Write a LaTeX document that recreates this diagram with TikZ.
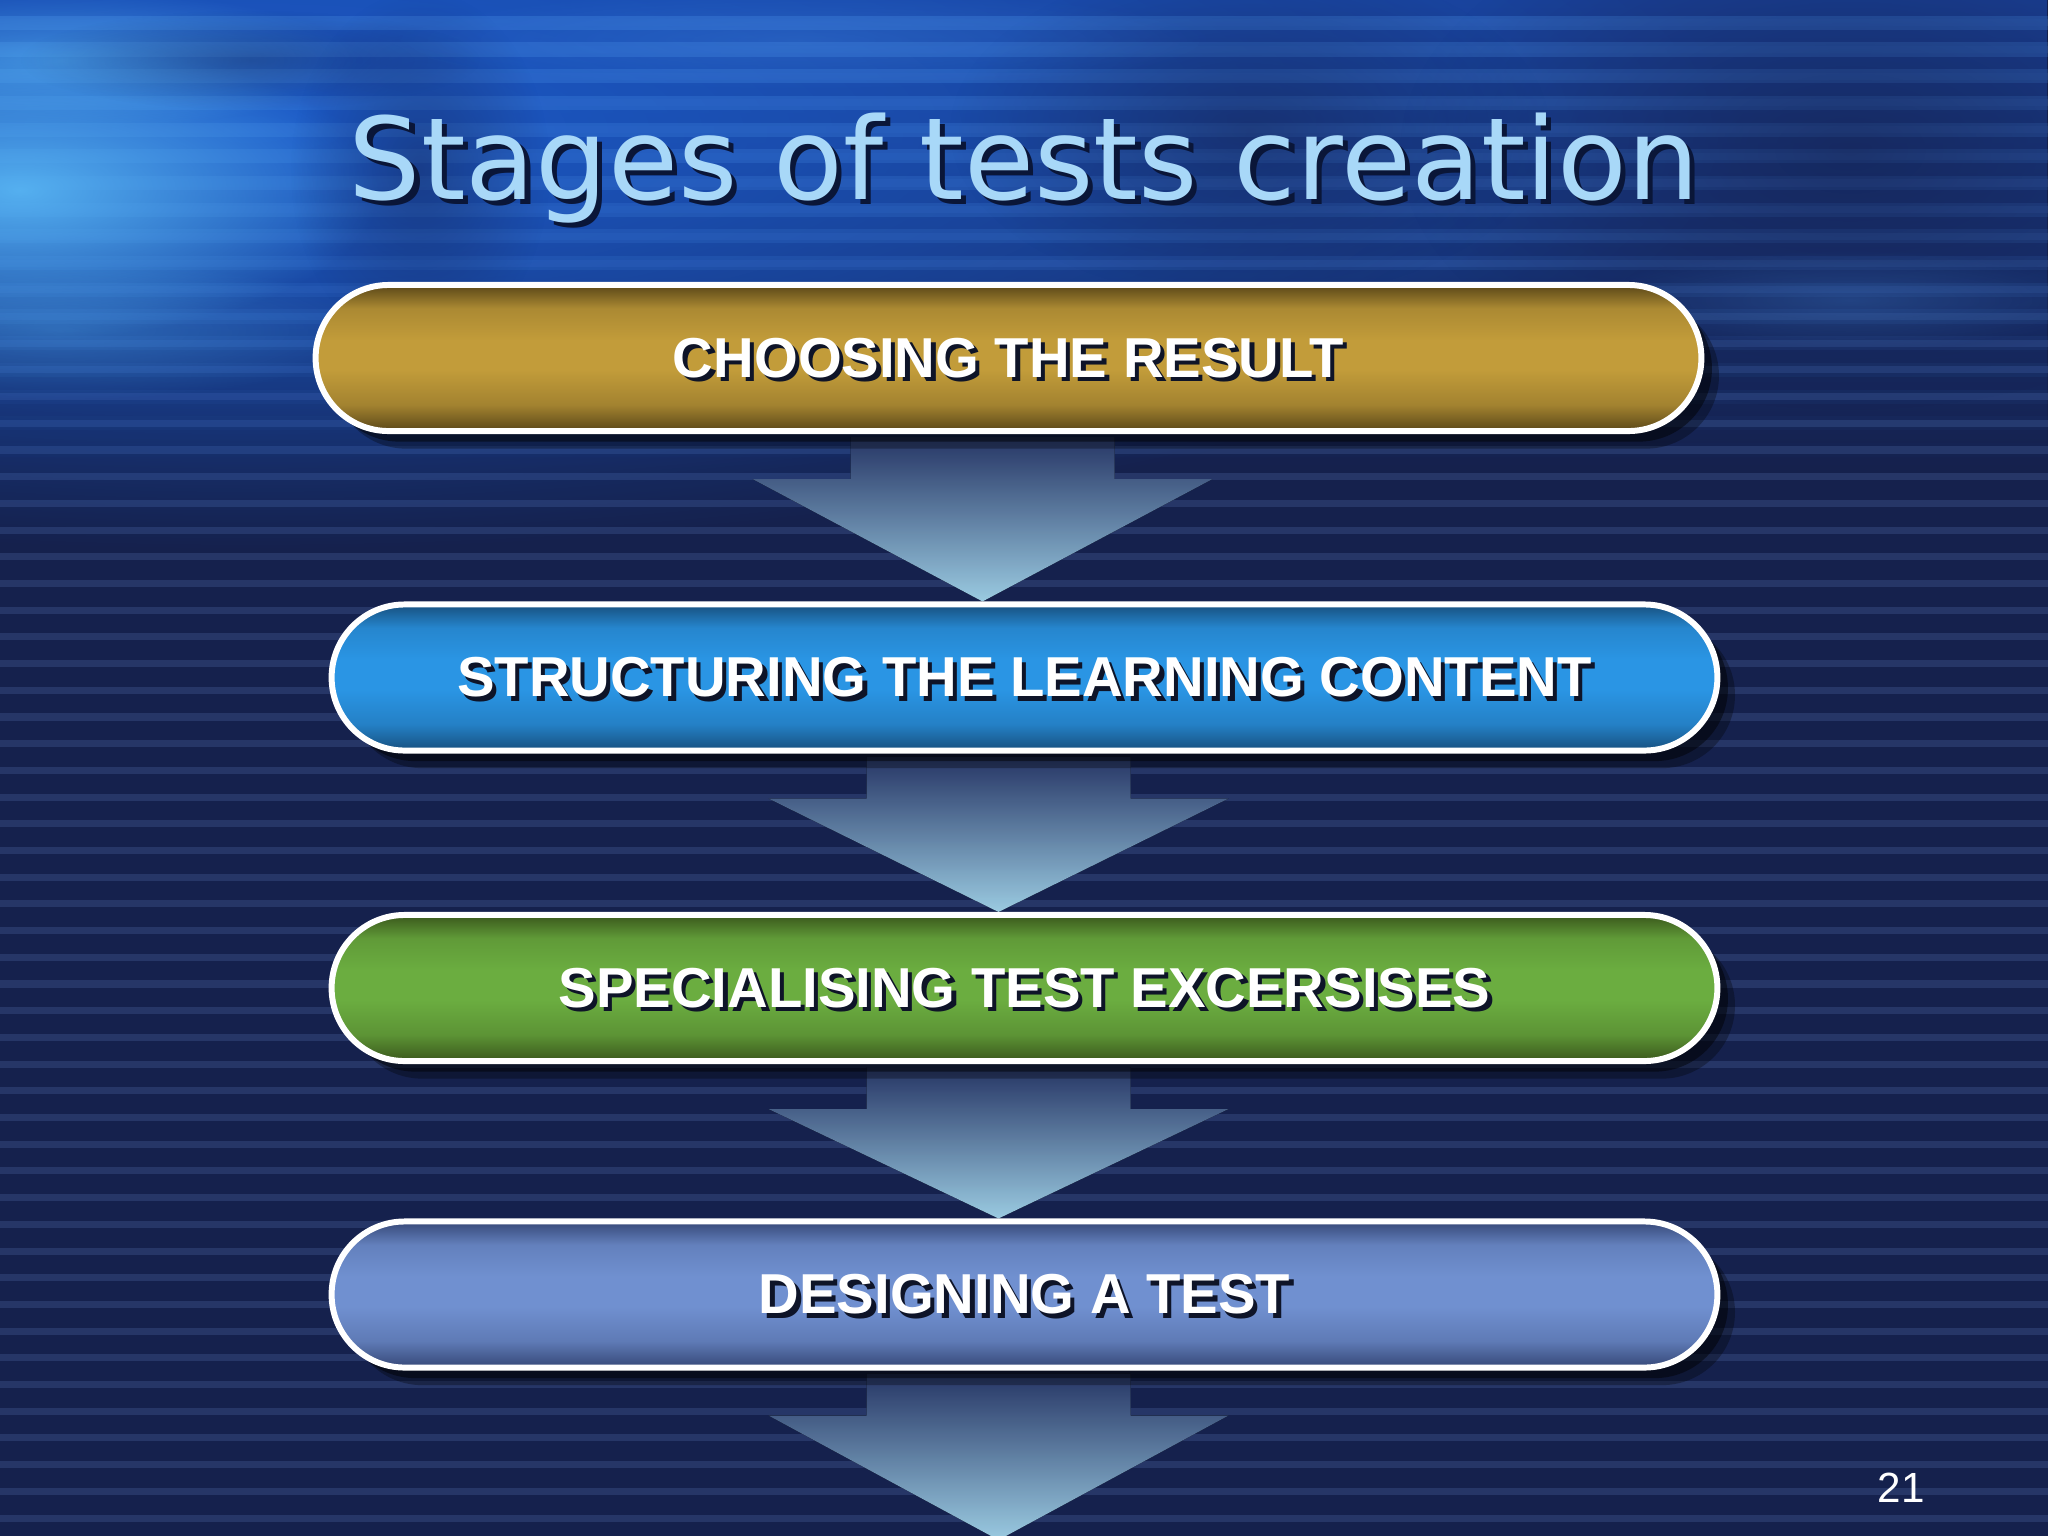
\documentclass[tikz,border=0pt]{standalone}
\usepackage{fontspec}
\setmainfont{Liberation Sans}
\newfontfamily\titlefont{DejaVu Sans}
\usetikzlibrary{shapes.misc,shadows,calc,fadings}

\definecolor{navy}{HTML}{15214D}
\definecolor{stripecol}{HTML}{2A3A6C}
\definecolor{topblue}{HTML}{1C5CCC}
\definecolor{midblue}{HTML}{1A44A0}
\definecolor{glowblue}{HTML}{55B0F0}
\definecolor{streakblue}{HTML}{4A90E8}
\definecolor{titleblue}{HTML}{A8D8F8}
\definecolor{titleshadow}{HTML}{0A1638}
\definecolor{textshadow}{HTML}{0E1428}
\definecolor{arrtop}{HTML}{2A3B6E}
\definecolor{arrbot}{HTML}{A8DCF4}

\definecolor{goldD}{HTML}{5A4718}
\definecolor{goldL}{HTML}{C29C3A}
\definecolor{blueD}{HTML}{17507F}
\definecolor{blueL}{HTML}{2A95E4}
\definecolor{greenD}{HTML}{3A581C}
\definecolor{greenL}{HTML}{6BAD40}
\definecolor{lavD}{HTML}{364878}
\definecolor{lavL}{HTML}{7090D0}

\newcommand\stageshading[3]{%
  \colorlet{#1M1}{#3!78!#2}%
  \colorlet{#1M2}{#3!70!#2}%
  \pgfdeclareverticalshading{#1}{100bp}{color(0bp)=(#2); color(25bp)=(#2);
    color(34bp)=(#1M2); color(46bp)=(#3); color(56bp)=(#3);
    color(67bp)=(#1M1); color(75bp)=(#2); color(100bp)=(#2)}}
\stageshading{goldsh}{goldD}{goldL}
\stageshading{bluesh}{blueD}{blueL}
\stageshading{greensh}{greenD}{greenL}
\stageshading{lavsh}{lavD}{lavL}

\tikzfading[name=softglow, inner color=transparent!0, outer color=transparent!100]
\tikzfading[name=topfade, top color=transparent!0, bottom color=transparent!100]

\pgfdeclarelayer{bg}
\pgfdeclarelayer{arr}
\pgfsetlayers{bg,arr,main}

\newcommand\shadowed[3]{\leavevmode\rlap{\kern#2\raisebox{-#2}[0pt][0pt]{\textcolor{#1}{#3}}}#3}

\newcommand\blockarrow[3]{%
  \coordinate (#1c) at ($(#2.south)+(-26,0)$);
  \fill[arrowfill] ($(#1c)+(-132,3)$) -- ($(#1c)+(132,3)$) -- ($(#1c)+(132,45)$)
    -- ($(#1c)+(230,45)$) -- (#1c |- #3) -- ($(#1c)+(-230,45)$)
    -- ($(#1c)+(-132,45)$) -- cycle;}

\tikzset{
  stage/.style={rounded rectangle, minimum width=13.85cm, minimum height=1.46cm,
    inner sep=0pt, draw=white, line width=1.7pt, shade, shading=#1,
    drop shadow={shadow xshift=3pt, shadow yshift=-3pt, opacity=0.45, fill=black},
    drop shadow={shadow xshift=5pt, shadow yshift=-5pt, opacity=0.3, fill=black},
    text=white, font=\bfseries\fontsize{16}{19}\selectfont},
  arrowfill/.style={top color=arrtop, bottom color=arrbot, fill opacity=0.92},
  titlestyle/.style={anchor=base, inner sep=0pt, text=titleblue,
    font=\titlefont\fontsize{32.4}{38}\selectfont},
  pagenum/.style={anchor=base, inner sep=0pt, text=white,
    font=\fontsize{12}{14}\selectfont}
}

\begin{document}
\begin{tikzpicture}[x=0.01cm,y=-0.01cm]
\useasboundingbox (0,0) rectangle (2048,1536);

% stages
\node[stage=goldsh]  (b1) at (1008.5,358)  {\shadowed{textshadow}{1.2pt}{CHOOSING THE RESULT}};
\node[stage=bluesh]  (b2) at (1024.5,677.5) {\shadowed{textshadow}{1.2pt}{STRUCTURING THE LEARNING CONTENT}};
\node[stage=greensh] (b3) at (1024.5,988)  {\shadowed{textshadow}{1.2pt}{SPECIALISING TEST EXCERSISES}};
\node[stage=lavsh]   (b4) at (1024.5,1294.5) {\shadowed{textshadow}{1.2pt}{DESIGNING A TEST}};
\coordinate (bottomend) at (998,1540);

% title and page number
\node[titlestyle] (title) at (1024,199) {\shadowed{titleshadow}{1.5pt}{Stages of tests creation}};
\node[pagenum] (pnum) at (1901,1502) {21};

% arrows
\begin{pgfonlayer}{arr}
\blockarrow{a1}{b1}{b2.north}
\blockarrow{a2}{b2}{b3.north}
\blockarrow{a3}{b3}{b4.north}
\blockarrow{a4}{b4}{bottomend}
\end{pgfonlayer}

% background
\begin{pgfonlayer}{bg}
\fill[navy] (0,0) rectangle (2048,1536);
\foreach \k in {0,...,57}
  \draw[stripecol, line width=2pt, opacity=0.85] (0,{22.8+26.7*\k}) -- (2048,{22.8+26.7*\k});
% blue wash over the top, strongest at top left
\fill[midblue, path fading=topfade, opacity=0.9] (0,0) rectangle (2048,470);
\fill[topblue, path fading=softglow, opacity=0.95] (250,130) ellipse (1500 and 420);
% soft streaks in the top part
\foreach \k in {0,...,16}
  \draw[streakblue, line width=4pt, opacity={0.3*(1-\k/17)}] (0,{22.8+26.7*\k}) -- (2048,{22.8+26.7*\k});
% bright glow at left
\fill[glowblue, path fading=softglow] (20,190) ellipse (360 and 150);
\fill[glowblue, path fading=softglow, opacity=0.6] (60,60) ellipse (300 and 70);
\fill[glowblue, path fading=softglow, opacity=0.35] (60,330) ellipse (320 and 70);
% darker blotches
\fill[navy, path fading=softglow, opacity=0.35] (250,60) ellipse (230 and 50);
\fill[navy, path fading=softglow, opacity=0.45] (420,170) ellipse (130 and 180);
\fill[navy, path fading=softglow, opacity=0.5] (1250,130) ellipse (300 and 170);
\fill[navy, path fading=softglow, opacity=0.6] (1850,150) ellipse (450 and 260);
\fill[streakblue, path fading=softglow, opacity=0.25] (1850,300) ellipse (260 and 50);
\fill[streakblue, path fading=softglow, opacity=0.25] (800,40) ellipse (420 and 50);
\end{pgfonlayer}
\end{tikzpicture}
\end{document}
